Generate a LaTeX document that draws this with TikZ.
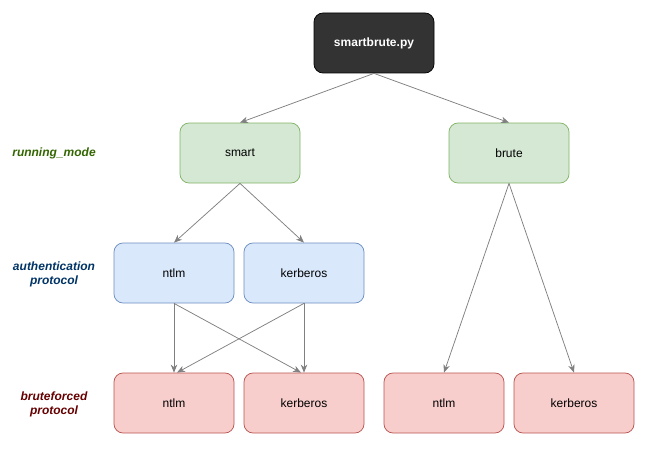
\documentclass[tikz,border=0pt]{standalone}
\usepackage{fontspec}
\setmainfont{Liberation Sans}
\usetikzlibrary{arrows.meta}
\definecolor{darkfill}{HTML}{333333}
\definecolor{gfill}{HTML}{D5E8D4}
\definecolor{gline}{HTML}{82B366}
\definecolor{bfill}{HTML}{DAE8FC}
\definecolor{bline}{HTML}{6C8EBF}
\definecolor{rfill}{HTML}{F8CECC}
\definecolor{rline}{HTML}{B85450}
\definecolor{edgec}{HTML}{808080}
\definecolor{lgreen}{HTML}{336600}
\definecolor{lblue}{HTML}{003366}
\definecolor{lred}{HTML}{660000}
\tikzset{
  box/.style={rectangle, rounded corners=9pt, minimum width=120pt, minimum height=60pt, inner sep=0pt, font=\fontsize{12}{14}\selectfont, line width=0.75pt},
  rootbox/.style={box, fill=darkfill, draw=black, text=white, font=\fontsize{12}{14}\selectfont\bfseries},
  greenbox/.style={box, fill=gfill, draw=gline},
  bluebox/.style={box, fill=bfill, draw=bline},
  redbox/.style={box, fill=rfill, draw=rline},
  sidelabel/.style={align=center, font=\fontsize{12}{14}\selectfont\bfseries\itshape},
  conn/.style={draw=edgec, line width=0.75pt, -{Stealth[length=8pt,width=6.5pt,inset=2.5pt]}}
}
\begin{document}
\begin{tikzpicture}[x=1pt,y=-1pt]
\useasboundingbox (0,0) rectangle (653,452);
\node[rootbox] (root) at (374,43) {smartbrute.py};
\node[greenbox] (smart) at (240,153) {smart};
\node[greenbox] (brute) at (509,153) {brute};
\node[bluebox] (antlm) at (174,273) {ntlm};
\node[bluebox] (akerb) at (304,273) {kerberos};
\node[redbox] (b1) at (174,403) {ntlm};
\node[redbox] (b2) at (304,403) {kerberos};
\node[redbox] (b3) at (444,403) {ntlm};
\node[redbox] (b4) at (574,403) {kerberos};
\node[sidelabel, text=lgreen] (l1) at (54,153) {running\_mode};
\node[sidelabel, text=lblue] (l2) at (54,274) {authentication\\protocol};
\node[sidelabel, text=lred] (l3) at (54,404) {bruteforced\\protocol};
\draw[conn] (root.south) -- (smart.north);
\draw[conn] (root.south) -- (brute.north);
\draw[conn] (smart.south) -- (antlm.north);
\draw[conn] (smart.south) -- (akerb.north);
\draw[conn] (brute.south) -- (b3.north);
\draw[conn] (brute.south) -- (b4.north);
\draw[conn] (antlm.south) -- (b1.north);
\draw[conn] (antlm.south) -- ([xshift=-3pt]b2.north);
\draw[conn] (akerb.south) -- (b2.north);
\draw[conn] (akerb.south) -- ([xshift=3pt]b1.north);
\end{tikzpicture}
\end{document}
